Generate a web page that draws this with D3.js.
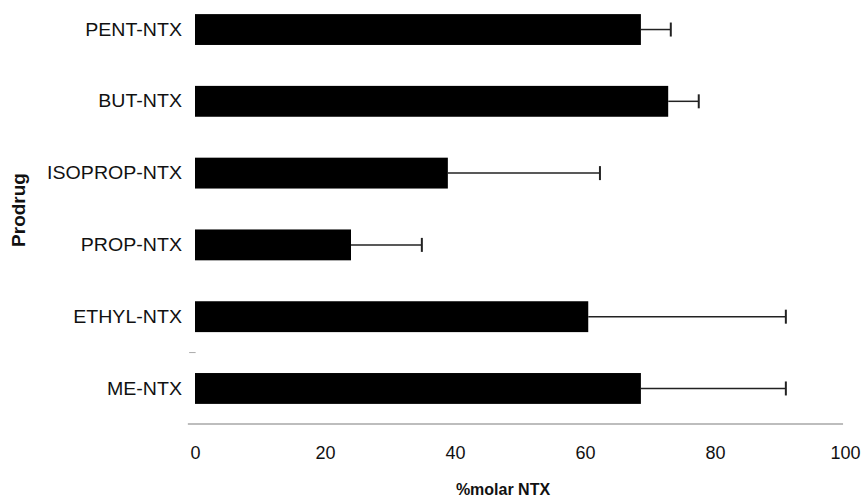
<!DOCTYPE html>
<html lang="en">
<head>
<meta charset="utf-8">
<title>Prodrug %molar NTX</title>
<style>
  * { margin: 0; padding: 0; box-sizing: border-box; }
  body { background: #fff; overflow: hidden; }
  svg { display: block; }
  text { font-family: "Liberation Sans", Arial, Helvetica, sans-serif; fill: #111; }
  .cat-label { font-size: 17.5px; }
  .tick-label { font-size: 18px; }
  .axis-title { font-size: 16px; font-weight: 700; }
</style>
</head>
<body>
<svg id="chart" width="863" height="499"></svg>
<script src="https://d3js.org/d3.v7.min.js"></script>
<script>
// data, top to bottom as drawn
const categories = ["PENT-NTX", "BUT-NTX", "ISOPROP-NTX", "PROP-NTX", "ETHYL-NTX", "ME-NTX"];
const values = [68.6, 72.8, 38.9, 24.0, 60.5, 68.6];
const errors = [4.6, 4.7, 23.4, 10.9, 30.4, 22.3];
const xTicks = [0, 20, 40, 60, 80, 100];

const rows = categories.map((c, i) => ({ name: c, value: values[i], err: errors[i] }));

const width = 863;
const height = 499;
const svg = d3.select("#chart");

const x = d3.scaleLinear().domain([0, 100]).range([195, 845]);
const y = d3.scaleBand().domain(categories).range([-6, 424])
  .paddingInner(0.57).paddingOuter(0.28);
const axisY = y.range()[1];

// bottom axis line (grey, slightly overhangs zero)
svg.append("line")
  .attr("x1", x(-1.1)).attr("x2", x(99.7))
  .attr("y1", axisY).attr("y2", axisY)
  .attr("stroke", "#bdbdbd").attr("stroke-width", 2);

// stray tick left of the axis between ETHYL and ME
const gapY = y("ME-NTX") - y.step() * y.paddingInner() / 2;
svg.append("line")
  .attr("x1", x(-0.9)).attr("x2", x(0.1))
  .attr("y1", gapY).attr("y2", gapY)
  .attr("stroke", "#aaa").attr("stroke-width", 1);

// x tick labels
const xAxis = svg.append("g")
  .attr("transform", `translate(0,${axisY})`)
  .call(d3.axisBottom(x).tickValues(xTicks).tickSize(0).tickPadding(22));
xAxis.select(".domain").remove();
xAxis.selectAll("text")
  .attr("class", "tick-label")
  .attr("font-family", null).attr("font-size", null)
  .attr("fill", "#111");

// bars
svg.append("g").selectAll("rect")
  .data(rows).join("rect")
  .attr("x", x(0))
  .attr("y", d => y(d.name))
  .attr("width", d => x(d.value) - x(0))
  .attr("height", y.bandwidth())
  .attr("fill", "#000");

// error bars (positive side only)
const eb = svg.append("g").selectAll("g")
  .data(rows).join("g")
  .attr("transform", d => `translate(0,${y(d.name) + y.bandwidth() / 2})`);
eb.append("line")
  .attr("x1", d => x(d.value)).attr("x2", d => x(d.value + d.err))
  .attr("stroke", "#222").attr("stroke-width", 1.5);
eb.append("line")
  .attr("x1", d => x(d.value + d.err)).attr("x2", d => x(d.value + d.err))
  .attr("y1", -7).attr("y2", 7)
  .attr("stroke", "#222").attr("stroke-width", 2);

// category labels (slightly wide, like the source)
svg.append("g").selectAll("g")
  .data(rows).join("g")
  .attr("transform", d => `translate(182,${y(d.name) + y.bandwidth() / 2}) scale(1.12,1)`)
  .append("text")
  .attr("class", "cat-label")
  .attr("text-anchor", "end")
  .attr("dy", "0.35em")
  .text(d => d.name);

// axis titles
svg.append("text")
  .attr("class", "axis-title")
  .attr("text-anchor", "middle")
  .attr("x", 503).attr("y", 495)
  .text("%molar NTX");

svg.append("text")
  .attr("class", "axis-title")
  .attr("text-anchor", "middle")
  .attr("transform", "translate(25,210) rotate(-90)")
  .style("font-size", "19px")
  .text("Prodrug");
</script>
</body>
</html>
